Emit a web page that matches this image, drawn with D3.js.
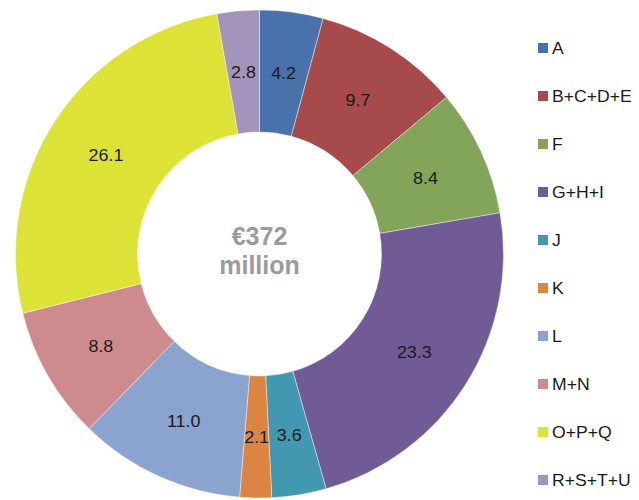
<!DOCTYPE html>
<html><head><meta charset="utf-8">
<script src="https://cdn.jsdelivr.net/npm/d3@7"></script>
<style>body{margin:0;background:#fff}svg{display:block}</style>
</head><body>
<svg id="c" width="639" height="500"></svg>
<script>
const categories = ["A","B+C+D+E","F","G+H+I","J","K","L","M+N","O+P+Q","R+S+T+U"];
const values = [4.2,9.7,8.4,23.3,3.6,2.1,11.0,8.8,26.1,2.8];
const colors = ["#4872a9","#a64a4b","#83a55a","#715b97","#4298b0","#dc8442","#8ba3cf","#ce8b8e","#dde236","#a294bb"];
const centerLines = ["€372","million"];

const svg = d3.select("#c");
const cx = 259.5, cy = 254, R = 244, r = 122;
const g = svg.append("g").attr("transform", `translate(${cx},${cy})`);
const pie = d3.pie().sort(null).value(d => d.v);
const data = pie(categories.map((c,i)=>({c, v: values[i], col: colors[i]})));
const arc = d3.arc().innerRadius(r).outerRadius(R);
g.selectAll("path").data(data).join("path")
  .attr("d", arc).attr("fill", d => d.data.col)
  .attr("stroke", "#fff").attr("stroke-width", 0.6).attr("stroke-opacity",0.7);
g.selectAll("text.v").data(data).join("text").attr("class","v")
  .attr("transform", d => `translate(${arc.centroid(d)}) scale(1.12,1)`)
  .attr("text-anchor","middle").attr("dy","0.4em")
  .attr("font-family","Liberation Sans, Arial, sans-serif").attr("font-size",16)
  .attr("fill","#1a1a1a")
  .text(d => d.data.v.toFixed(1));
g.selectAll("text.c").data(centerLines).join("text").attr("class","c")
  .attr("text-anchor","middle")
  .attr("y",(d,i)=> -9 + i*29)
  .attr("font-family","Liberation Sans, Arial, sans-serif").attr("font-size",25)
  .attr("font-weight","bold").attr("fill","#9b9b9f")
  .text(d=>d);

const y = d3.scalePoint().domain(categories).range([48, 480]);
const leg = svg.append("g");
const items = leg.selectAll("g").data(categories).join("g")
  .attr("transform", d => `translate(538,${y(d)})`);
items.append("rect").attr("x",0).attr("y",-5).attr("width",10).attr("height",10)
  .attr("fill",(d,i)=>colors[i]);
items.append("text").attr("transform","translate(14,0) scale(1.1,1)").attr("dy","0.36em")
  .attr("font-family","Liberation Sans, Arial, sans-serif").attr("font-size",16)
  .attr("fill","#1a1a1a").text(d=>d);
</script>
</body></html>
